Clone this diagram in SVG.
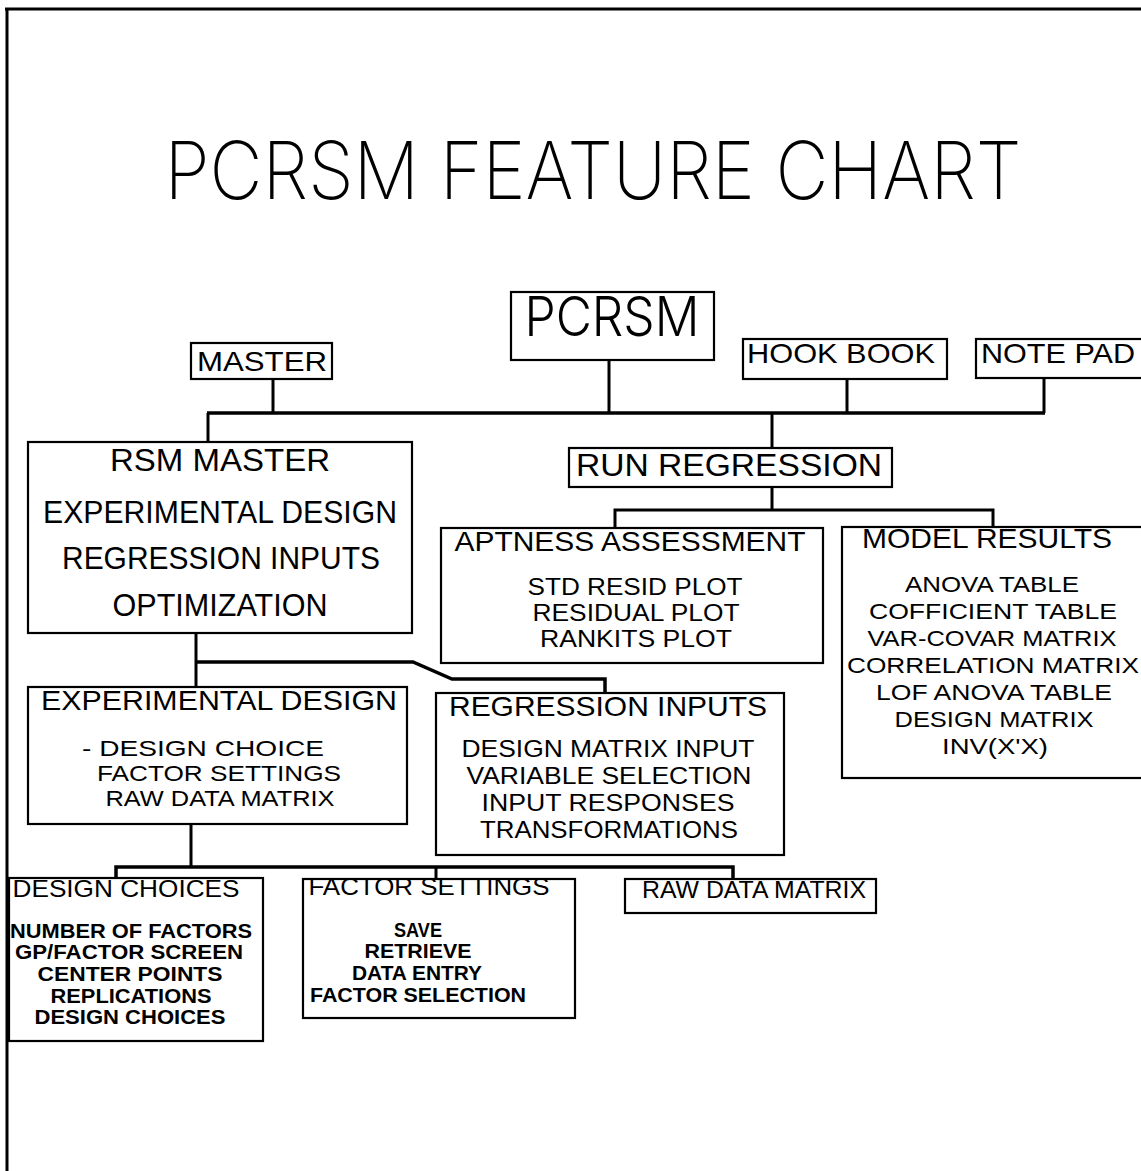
<svg xmlns="http://www.w3.org/2000/svg" width="1141" height="1171" viewBox="0 0 1141 1171">
<style>
.box{fill:#fff;stroke:#000;stroke-width:2.2}
.frame{fill:none;stroke:#000;stroke-width:3}
.con{fill:none;stroke:#000;stroke-width:3;stroke-linejoin:miter}
.bus{fill:none;stroke:#000;stroke-width:3.5}
text{font-family:"Liberation Sans",Arial,sans-serif;fill:#000;text-anchor:middle}
.title{font-family:Inter,"Liberation Sans",sans-serif;font-weight:200;font-size:80px}
.big{font-family:Inter,"Liberation Sans",sans-serif;font-weight:300;font-size:55px}
.h1{font-size:32px}
.h2{font-size:28px}
.h3{font-size:24px}
.t{font-size:24px}
.u{font-size:22px}
.s{font-size:24px}
.b{font-size:20px;font-weight:bold}
</style>
<rect width="1141" height="1171" fill="#fff"/>
<g id="frame">
<line class="frame" x1="5" y1="9" x2="1141" y2="9"/>
<line class="frame" x1="7" y1="9" x2="7" y2="1171"/>
</g>
<text id="title" class="title" x="593" y="199" textLength="857" lengthAdjust="spacingAndGlyphs">PCRSM FEATURE CHART</text>
<g id="connectors">
<line class="con" x1="273" y1="379" x2="273" y2="413"/>
<line class="con" x1="609" y1="360" x2="609" y2="413"/>
<line class="con" x1="847" y1="379" x2="847" y2="413"/>
<line class="con" x1="1044" y1="378" x2="1044" y2="413"/>
<line class="bus" x1="207" y1="413" x2="1045" y2="413"/>
<line class="con" x1="208" y1="413" x2="208" y2="442"/>
<line class="con" x1="772" y1="413" x2="772" y2="448"/>
<line class="con" x1="772" y1="487" x2="772" y2="510"/>
<polyline class="con" points="615,528 615,510 993,510 993,527"/>
<line class="con" x1="196" y1="633" x2="196" y2="687"/>
<polyline class="bus" points="196,662 413,662 452,679 605,679 605,693"/>
<line class="con" x1="191" y1="824" x2="191" y2="867"/>
<polyline class="bus" points="116,878 116,867 733,867 733,879"/>
<line class="con" x1="436" y1="867" x2="436" y2="879"/>
</g>
<g id="pcrsm">
<rect class="box" x="511" y="292" width="203" height="68"/>
<text class="big" x="612" y="336" textLength="175" lengthAdjust="spacingAndGlyphs">PCRSM</text>
</g>
<g id="master">
<rect class="box" x="191" y="343" width="141" height="36"/>
<text class="h2" x="262" y="371" textLength="130" lengthAdjust="spacingAndGlyphs">MASTER</text>
</g>
<g id="hook-book">
<rect class="box" x="743" y="339" width="204" height="40"/>
<text class="h2" x="841" y="363" textLength="188" lengthAdjust="spacingAndGlyphs">HOOK BOOK</text>
</g>
<g id="note-pad">
<rect class="box" x="976" y="339" width="180" height="39"/>
<text class="h2" x="1058" y="363" textLength="154" lengthAdjust="spacingAndGlyphs">NOTE PAD</text>
</g>
<g id="rsm-master">
<rect class="box" x="28" y="442" width="384" height="191"/>
<text class="h1" x="220" y="471" textLength="220" lengthAdjust="spacingAndGlyphs">RSM MASTER</text>
<text class="h1" x="220" y="523" textLength="354" lengthAdjust="spacingAndGlyphs">EXPERIMENTAL DESIGN</text>
<text class="h1" x="221" y="569" textLength="318" lengthAdjust="spacingAndGlyphs">REGRESSION INPUTS</text>
<text class="h1" x="220" y="616" textLength="215" lengthAdjust="spacingAndGlyphs">OPTIMIZATION</text>
</g>
<g id="run-regression">
<rect class="box" x="569" y="448" width="323" height="39"/>
<text class="h1" x="729" y="476" textLength="306" lengthAdjust="spacingAndGlyphs">RUN REGRESSION</text>
</g>
<g id="aptness-assessment">
<rect class="box" x="441" y="528" width="382" height="135"/>
<text class="h2" x="630" y="551" textLength="351" lengthAdjust="spacingAndGlyphs">APTNESS ASSESSMENT</text>
<text class="t" x="635" y="595" textLength="215" lengthAdjust="spacingAndGlyphs">STD RESID PLOT</text>
<text class="t" x="636" y="621" textLength="207" lengthAdjust="spacingAndGlyphs">RESIDUAL PLOT</text>
<text class="t" x="636" y="647" textLength="192" lengthAdjust="spacingAndGlyphs">RANKITS PLOT</text>
</g>
<g id="model-results">
<rect class="box" x="842" y="527" width="310" height="251"/>
<text class="h2" x="987" y="548" textLength="250" lengthAdjust="spacingAndGlyphs">MODEL RESULTS</text>
<text class="u" x="992" y="592" textLength="174" lengthAdjust="spacingAndGlyphs">ANOVA TABLE</text>
<text class="u" x="993" y="619" textLength="248" lengthAdjust="spacingAndGlyphs">COFFICIENT TABLE</text>
<text class="u" x="992" y="646" textLength="249" lengthAdjust="spacingAndGlyphs">VAR-COVAR MATRIX</text>
<text class="u" x="993" y="673" textLength="292" lengthAdjust="spacingAndGlyphs">CORRELATION MATRIX</text>
<text class="u" x="994" y="700" textLength="236" lengthAdjust="spacingAndGlyphs">LOF ANOVA TABLE</text>
<text class="u" x="994" y="727" textLength="199" lengthAdjust="spacingAndGlyphs">DESIGN MATRIX</text>
<text class="u" x="995" y="754" textLength="106" lengthAdjust="spacingAndGlyphs">INV(X'X)</text>
</g>
<g id="experimental-design">
<rect class="box" x="28" y="687" width="379" height="137"/>
<text class="h2" x="219" y="710" textLength="356" lengthAdjust="spacingAndGlyphs">EXPERIMENTAL DESIGN</text>
<text class="u" x="203" y="756" textLength="242" lengthAdjust="spacingAndGlyphs">- DESIGN CHOICE</text>
<text class="u" x="219" y="781" textLength="244" lengthAdjust="spacingAndGlyphs">FACTOR SETTINGS</text>
<text class="u" x="220" y="806" textLength="229" lengthAdjust="spacingAndGlyphs">RAW DATA MATRIX</text>
</g>
<g id="regression-inputs">
<rect class="box" x="436" y="693" width="348" height="162"/>
<text class="h2" x="608" y="716" textLength="318" lengthAdjust="spacingAndGlyphs">REGRESSION INPUTS</text>
<text class="h3" x="608" y="757" textLength="293" lengthAdjust="spacingAndGlyphs">DESIGN MATRIX INPUT</text>
<text class="h3" x="609" y="784" textLength="285" lengthAdjust="spacingAndGlyphs">VARIABLE SELECTION</text>
<text class="h3" x="608" y="811" textLength="253" lengthAdjust="spacingAndGlyphs">INPUT RESPONSES</text>
<text class="h3" x="609" y="838" textLength="258" lengthAdjust="spacingAndGlyphs">TRANSFORMATIONS</text>
</g>
<g id="design-choices">
<rect class="box" x="9" y="878" width="254" height="163"/>
<text class="s" x="126" y="897" textLength="227" lengthAdjust="spacingAndGlyphs">DESIGN CHOICES</text>
<text class="b" x="131" y="938" textLength="242" lengthAdjust="spacingAndGlyphs">NUMBER OF FACTORS</text>
<text class="b" x="129" y="959" textLength="228" lengthAdjust="spacingAndGlyphs">GP/FACTOR SCREEN</text>
<text class="b" x="130" y="981" textLength="185" lengthAdjust="spacingAndGlyphs">CENTER POINTS</text>
<text class="b" x="131" y="1003" textLength="161" lengthAdjust="spacingAndGlyphs">REPLICATIONS</text>
<text class="b" x="130" y="1024" textLength="191" lengthAdjust="spacingAndGlyphs">DESIGN CHOICES</text>
</g>
<g id="factor-settings">
<rect class="box" x="303" y="879" width="272" height="139"/>
<text class="s" x="429" y="895" textLength="241" lengthAdjust="spacingAndGlyphs">FACTOR SETTINGS</text>
<text class="b" x="418" y="937" textLength="48" lengthAdjust="spacingAndGlyphs">SAVE</text>
<text class="b" x="418" y="958" textLength="107" lengthAdjust="spacingAndGlyphs">RETRIEVE</text>
<text class="b" x="417" y="980" textLength="130" lengthAdjust="spacingAndGlyphs">DATA ENTRY</text>
<text class="b" x="418" y="1002" textLength="216" lengthAdjust="spacingAndGlyphs">FACTOR SELECTION</text>
</g>
<g id="raw-data-matrix">
<rect class="box" x="625" y="879" width="251" height="34"/>
<text class="s" x="754" y="898" textLength="224" lengthAdjust="spacingAndGlyphs">RAW DATA MATRIX</text>
</g>
</svg>
